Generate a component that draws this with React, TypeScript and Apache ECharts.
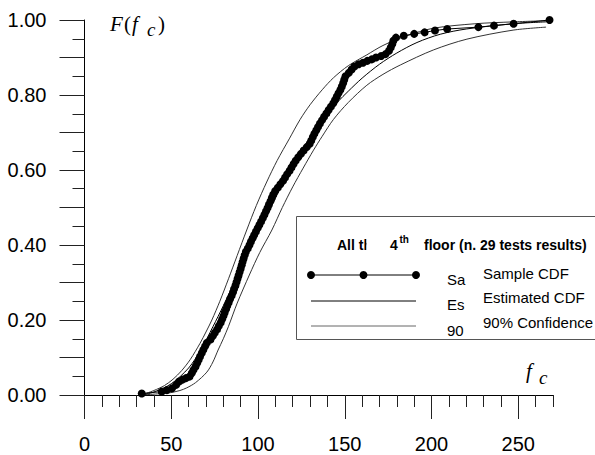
import React, { useEffect, useRef } from 'react';
import * as echarts from 'echarts';

const samplePts: number[][] = [
  [33.0, 0.004], [44.5, 0.009], [47.5, 0.013], [50.5, 0.018], [52.8, 0.027], [54.5, 0.036], [56.5, 0.041],
  [58.5, 0.045], [60.5, 0.049], [61.8, 0.058], [62.8, 0.067], [64.0, 0.076], [64.9, 0.085], [65.8, 0.094],
  [66.6, 0.103], [67.6, 0.112], [68.5, 0.121], [69.5, 0.130], [70.5, 0.139], [72.6, 0.148], [73.9, 0.157],
  [75.1, 0.166], [76.4, 0.175], [77.4, 0.184], [78.5, 0.193], [79.3, 0.202], [80.1, 0.211], [80.8, 0.220],
  [81.6, 0.229], [82.3, 0.238], [83.1, 0.247], [83.9, 0.256], [84.8, 0.265], [85.6, 0.274], [86.2, 0.283],
  [87.0, 0.292], [87.6, 0.301], [88.2, 0.310], [88.8, 0.319], [89.4, 0.328], [90.0, 0.337], [90.6, 0.346],
  [91.1, 0.355], [91.7, 0.364], [92.3, 0.373], [93.0, 0.382], [94.1, 0.391], [95.1, 0.400], [95.9, 0.409],
  [96.9, 0.418], [97.8, 0.427], [98.8, 0.436], [99.8, 0.445], [100.8, 0.454], [101.8, 0.463], [102.8, 0.472],
  [103.7, 0.481], [104.6, 0.490], [105.5, 0.499], [106.3, 0.508], [107.2, 0.517], [108.0, 0.526], [108.8, 0.535],
  [109.9, 0.544], [111.4, 0.553], [112.9, 0.562], [114.4, 0.571], [115.6, 0.580], [116.8, 0.589], [118.2, 0.598],
  [119.3, 0.607], [120.5, 0.616], [121.7, 0.625], [123.2, 0.634], [124.7, 0.643], [126.3, 0.652], [128.1, 0.661],
  [129.8, 0.670], [130.7, 0.679], [131.6, 0.688], [132.5, 0.697], [133.6, 0.706], [134.6, 0.715], [135.7, 0.724],
  [136.9, 0.733], [138.1, 0.742], [139.4, 0.751], [140.7, 0.760], [142.0, 0.769], [143.4, 0.778], [144.4, 0.787],
  [145.4, 0.796], [146.4, 0.805], [147.5, 0.814], [148.3, 0.823], [149.1, 0.832], [149.7, 0.841], [150.4, 0.850],
  [152.3, 0.859], [153.9, 0.868], [155.5, 0.876], [158.0, 0.882], [160.5, 0.886], [163.0, 0.891], [165.5, 0.895],
  [168.0, 0.900], [171.0, 0.904], [173.5, 0.909], [175.5, 0.918], [176.5, 0.927], [177.4, 0.936], [178.0, 0.945],
  [179.5, 0.953], [184.0, 0.958], [190.0, 0.963], [196.0, 0.967], [202.0, 0.972], [209.0, 0.976], [227.0, 0.981],
  [236.0, 0.985], [247.3, 0.990], [268.0, 1.000],
];

// Estimated CDF
const estimatedPts: number[][] = [
  [33, 0.0], [40, 0.008], [50, 0.03], [60, 0.072], [67, 0.12], [74, 0.182], [80, 0.238], [86, 0.296],
  [92, 0.356], [98, 0.412], [104, 0.468], [110, 0.525], [116, 0.58], [122, 0.63], [128, 0.673], [134, 0.713],
  [140, 0.75], [146, 0.782], [152, 0.81], [160, 0.845], [170, 0.882], [180, 0.912], [191.6, 0.94], [205, 0.962],
  [220, 0.976], [247, 0.99], [266, 0.995],
];

// 90% confidence band, upper (left) bound
const upperPts: number[][] = [
  [33, 0.0], [40, 0.012], [46, 0.025], [51, 0.042], [56, 0.065], [61, 0.095], [66.6, 0.138], [70, 0.168],
  [73.4, 0.2], [78, 0.25], [83, 0.31], [88, 0.372], [93.5, 0.44], [99, 0.505], [105, 0.568], [111, 0.625],
  [118, 0.683], [124.3, 0.735], [130, 0.774], [137, 0.814], [143.5, 0.846], [152, 0.878], [162.7, 0.907],
  [172, 0.932], [185, 0.957], [201, 0.978], [225, 0.99], [247, 0.995], [266, 0.998],
];

// 90% confidence band, lower (right) bound
const lowerPts: number[][] = [
  [33, 0.0], [42, 0.003], [49.3, 0.006], [55, 0.012], [58.9, 0.019], [64, 0.033], [70.5, 0.061], [74, 0.088],
  [77, 0.12], [80, 0.15], [82.9, 0.182], [88, 0.245], [95, 0.32], [101, 0.38], [108, 0.44], [114, 0.5],
  [120, 0.555], [126, 0.605], [132, 0.653], [137, 0.69], [143.5, 0.735], [152, 0.78], [162.7, 0.826],
  [172, 0.855], [182, 0.88], [201, 0.92], [220.4, 0.949], [247, 0.973], [266, 0.981],
];

const legendTitleA = 'All th';
const legendTitleB = '4';
const legendTitleSup = 'th';
const legendTitleC = 'floor (n. 29 tests results)';
const legendShort = ['Sa', 'Es', '90'];
const legendLong = ['Sample CDF', 'Estimated CDF', '90% Confidence'];

const SANS = 'Liberation Sans, Arial, sans-serif';
const SERIF = 'Liberation Serif, Times New Roman, serif';

function txt(x: number, y: number, text: string, font: string, extra: any = {}) {
  return {
    type: 'text',
    x,
    y,
    z: 100,
    style: {
      text,
      font,
      fill: '#000',
      textAlign: 'left',
      align: 'left',
      textVerticalAlign: 'middle',
      verticalAlign: 'middle',
      ...extra,
    },
  };
}

export default function App() {
  const ref = useRef<HTMLDivElement>(null);
  useEffect(() => {
    if (!ref.current) return;
    const chart = echarts.init(ref.current, undefined, { renderer: 'svg' });
    const gLeft = 84.5;
    const gTop = 20;
    const gW = 468.5;
    const gH = 375;
    const option: any = {
      animation: false,
      backgroundColor: '#fff',
      grid: [
        { left: gLeft, top: gTop, width: gW, height: gH },
        { left: gLeft, top: gTop, width: (gW * 250) / 270, height: gH },
      ],
      xAxis: [
        {
          type: 'value', gridIndex: 0, min: 0, max: 270, interval: 10,
          axisLine: { show: true, onZero: false, lineStyle: { color: '#000', width: 1 } },
          axisTick: { show: true, length: 12, lineStyle: { color: '#222', width: 1 } },
          axisLabel: { show: false },
          splitLine: { show: false },
        },
        {
          type: 'value', gridIndex: 1, min: 0, max: 250, interval: 50,
          axisLine: { show: false },
          axisTick: { show: true, length: 24, lineStyle: { color: '#222', width: 1 } },
          axisLabel: { show: true, fontSize: 20, fontFamily: SANS, color: '#000', margin: 39 },
          splitLine: { show: false },
        },
      ],
      yAxis: [
        {
          type: 'value', gridIndex: 0, min: 0, max: 1, interval: 0.1,
          axisLine: { show: true, onZero: false, lineStyle: { color: '#000', width: 1 } },
          axisTick: { show: true, length: 25, lineStyle: { color: '#222', width: 1 } },
          minorTick: { show: true, splitNumber: 2, length: 12, lineStyle: { color: '#222', width: 1 } },
          axisLabel: {
            show: true, fontSize: 20, fontFamily: SANS, color: '#000', margin: 38,
            formatter: (v: number) => (Math.round(v * 10) % 2 === 0 ? v.toFixed(2) : ''),
          },
          splitLine: { show: false },
          minorSplitLine: { show: false },
        },
        { type: 'value', gridIndex: 1, min: 0, max: 1, show: false },
      ],
      series: [
        {
          name: 'Upper', type: 'line', xAxisIndex: 0, yAxisIndex: 0, data: upperPts,
          showSymbol: false, smooth: 0.3, lineStyle: { color: '#333', width: 1 }, z: 2,
        },
        {
          name: 'Lower', type: 'line', xAxisIndex: 0, yAxisIndex: 0, data: lowerPts,
          showSymbol: false, smooth: 0.3, lineStyle: { color: '#333', width: 1 }, z: 2,
        },
        {
          name: 'Estimated', type: 'line', xAxisIndex: 0, yAxisIndex: 0, data: estimatedPts,
          showSymbol: false, smooth: 0.3, lineStyle: { color: '#000', width: 1 }, z: 3,
        },
        {
          name: 'Sample', type: 'line', xAxisIndex: 0, yAxisIndex: 0, data: samplePts,
          symbol: 'circle', symbolSize: 8, showAllSymbol: true, clip: false,
          lineStyle: { color: '#000', width: 1 }, itemStyle: { color: '#000' }, z: 4,
        },
      ],
      graphic: [
        // axis title F(fc)
        txt(110, 24, 'F', `italic 21px ${SERIF}`),
        txt(124, 24, '(', `21px ${SERIF}`),
        txt(132, 24, 'f', `italic 21px ${SERIF}`),
        txt(147, 29, 'c', `italic 19px ${SERIF}`),
        txt(158, 24, ')', `21px ${SERIF}`),
        // fc near x axis
        txt(526, 371, 'f', `italic 21px ${SERIF}`),
        txt(539, 377, 'c', `italic 19px ${SERIF}`),
        // legend box
        {
          type: 'rect', z: 90,
          shape: { x: 296.5, y: 216.5, width: 330, height: 123 },
          style: { fill: '#fff', stroke: '#555', lineWidth: 1 },
        },
        txt(337, 245, legendTitleA, `bold 14px ${SANS}`),
        {
          type: 'rect', z: 101,
          shape: { x: 366.5, y: 232, width: 22, height: 22 },
          style: { fill: '#fff' },
        },
        txt(390, 245, legendTitleB, `bold 14px ${SANS}`, { z: 102 }),
        txt(399.5, 239.5, legendTitleSup, `bold 10px ${SANS}`),
        txt(424, 245, legendTitleC, `bold 14px ${SANS}`),
        // legend row 1: sample
        {
          type: 'line', z: 100,
          shape: { x1: 311, y1: 275, x2: 416, y2: 275 },
          style: { stroke: '#000', lineWidth: 1 },
        },
        { type: 'circle', z: 100, shape: { cx: 311, cy: 275, r: 4 }, style: { fill: '#000' } },
        { type: 'circle', z: 100, shape: { cx: 363.5, cy: 275, r: 4 }, style: { fill: '#000' } },
        { type: 'circle', z: 100, shape: { cx: 416, cy: 275, r: 4 }, style: { fill: '#000' } },
        txt(447, 279, legendShort[0], `15px ${SANS}`),
        txt(483, 273, legendLong[0], `15px ${SANS}`),
        // legend row 2: estimated
        {
          type: 'line', z: 100,
          shape: { x1: 311, y1: 301, x2: 416, y2: 301 },
          style: { stroke: '#000', lineWidth: 1 },
        },
        txt(447, 304, legendShort[1], `15px ${SANS}`),
        txt(483, 297, legendLong[1], `15px ${SANS}`),
        // legend row 3: confidence
        {
          type: 'line', z: 100,
          shape: { x1: 311, y1: 326, x2: 416, y2: 326 },
          style: { stroke: '#666', lineWidth: 1 },
        },
        txt(447, 330, legendShort[2], `15px ${SANS}`),
        txt(483, 322, legendLong[2], `15px ${SANS}`),
      ],
    };
    chart.setOption(option);
    return () => chart.dispose();
  }, []);
  return (
    <div
      ref={ref}
      style={{ position: 'fixed', left: 0, top: 0, width: 595, height: 455, background: '#fff' }}
    />
  );
}
